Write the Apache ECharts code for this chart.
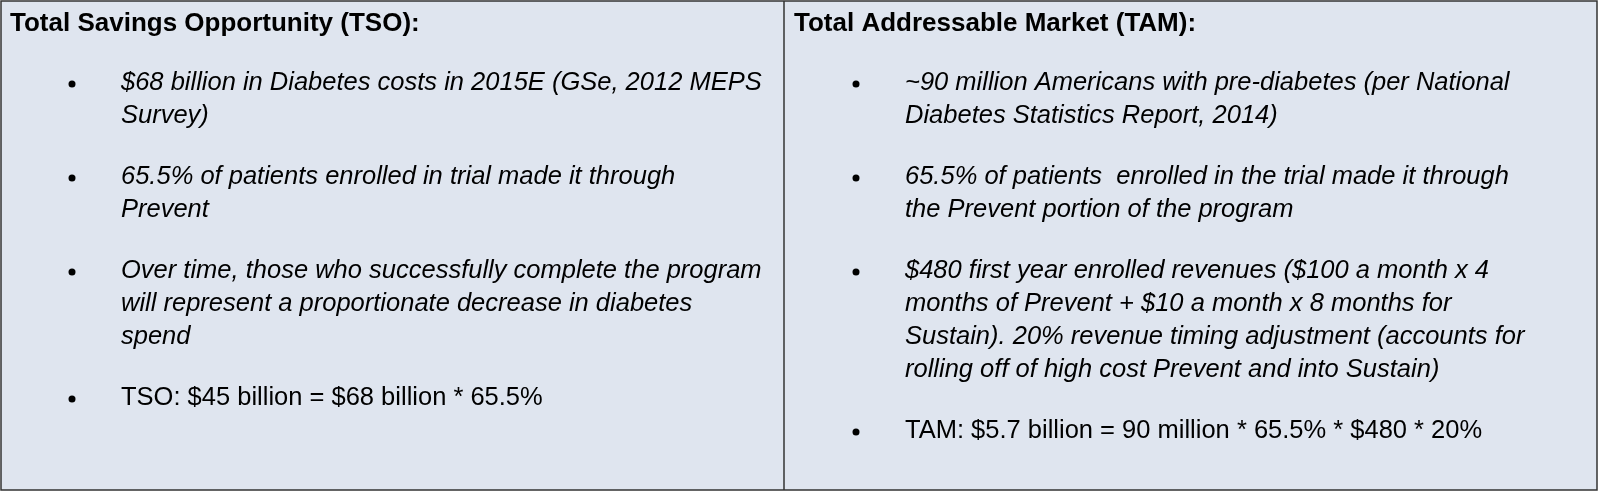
<!DOCTYPE html>
<html>
<head>
<meta charset="utf-8">
<script src="https://cdn.jsdelivr.net/npm/echarts@6/dist/echarts.min.js"></script>
<style>html,body{margin:0;padding:0;background:#fff}#main{width:1600px;height:502px}</style>
</head>
<body>
<div id="main"></div>
<script>
// panel headers
const headers = ['Total Savings Opportunity (TSO):', 'Total Addressable Market (TAM):']

// bullets per panel: each bullet is a list of wrapped lines, plus whether italic
const leftBullets = [
  { lines: ['$68 billion in Diabetes costs in 2015E (GSe, 2012 MEPS', 'Survey)'], italic: true },
  { lines: ['65.5% of patients enrolled in trial made it through', 'Prevent'], italic: true },
  { lines: ['Over time, those who successfully complete the program', 'will represent a proportionate decrease in diabetes', 'spend'], italic: true },
  { lines: ['TSO: $45 billion = $68 billion * 65.5%'], italic: false }
]
const rightBullets = [
  { lines: ['~90 million Americans with pre-diabetes (per National', 'Diabetes Statistics Report, 2014)'], italic: true },
  { lines: ['65.5% of patients  enrolled in the trial made it through', 'the Prevent portion of the program'], italic: true },
  { lines: ['$480 first year enrolled revenues ($100 a month x 4', 'months of Prevent + $10 a month x 8 months for', 'Sustain). 20% revenue timing adjustment (accounts for', 'rolling off of high cost Prevent and into Sustain)'], italic: true },
  { lines: ['TAM: $5.7 billion = 90 million * 65.5% * $480 * 20%'], italic: false }
]

const chart = echarts.init(document.getElementById('main'))
const font = '"Liberation Sans", Arial, sans-serif'
const lineH = 33
const gap = 28

function panel(x0, bullets, header) {
  const els = [{
    type: 'text', left: x0 + 10, top: 11,
    style: { text: header, font: '900 26px ' + font, fill: '#000' }
  }]
  let y = 63
  bullets.forEach(b => {
    els.push({ type: 'circle', shape: { cx: x0 + 72, cy: y + 21, r: 3.5 }, style: { fill: '#000' } })
    els.push({
      type: 'text', x: x0 + 121, y: y + 3,
      style: {
        text: b.lines.join('\n'), lineHeight: lineH,
        font: (b.italic ? 'italic ' : '') + '25.5px ' + font, fill: '#000'
      }
    })
    y += b.lines.length * lineH + gap
  })
  return els
}

chart.setOption({
  animation: false,
  graphic: [
    { type: 'rect', shape: { x: 1, y: 1, width: 1596, height: 489 }, style: { fill: '#dfe5ef', stroke: '#333', lineWidth: 1.5 } },
    { type: 'line', shape: { x1: 784, y1: 1, x2: 784, y2: 490 }, style: { stroke: '#333', lineWidth: 1.5 } },
    ...panel(0, leftBullets, headers[0]),
    ...panel(784, rightBullets, headers[1])
  ]
})
</script>
</body>
</html>
